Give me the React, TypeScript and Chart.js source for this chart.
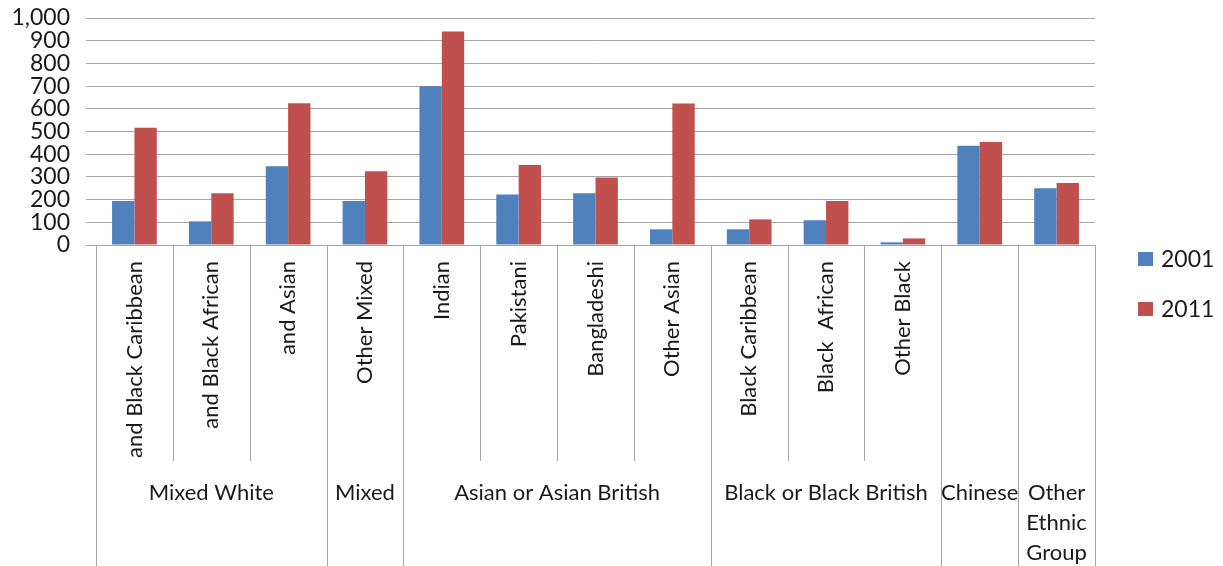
import React, { useEffect, useRef } from "react";
import { Chart, registerables } from "chart.js";

Chart.register(...registerables);

// Sub-category labels along the x axis (drawn rotated)
const categories: string[] = [
  "and Black Caribbean",
  "and Black African",
  "and Asian",
  "Other Mixed",
  "Indian",
  "Pakistani",
  "Bangladeshi",
  "Other Asian",
  "Black Caribbean",
  "Black  African",
  "Other Black",
  "",
  "",
];

// Top-level ethnic groups and how many sub-categories each covers
const groupLabels: string[][] = [
  ["Mixed White"],
  ["Mixed"],
  ["Asian or Asian British"],
  ["Black or Black British"],
  ["Chinese"],
  ["Other", "Ethnic", "Group"],
];
const groupSpans: number[] = [3, 1, 4, 3, 1, 1];

const seriesNames: string[] = ["2001", "2011"];
const values2001: number[] = [194, 104, 347, 194, 699, 222, 228, 69, 69, 109, 12, 437, 250];
const values2011: number[] = [517, 228, 624, 325, 940, 352, 297, 623, 113, 194, 29, 454, 273];

const yTicks = { min: 0, max: 1000, step: 100 };

const BLUE = "#4F81BD";
const RED = "#C0504D";
const GRID = "#a6a6a6";
const TEXT = "#1a1a1a";
const FONT = "Lato, 'Liberation Sans', sans-serif";

const W = 1223;
const H = 566;

const axisDecor = {
  id: "axisDecor",
  afterDraw(chart: any) {
    const { ctx, chartArea } = chart;
    const n = categories.length;
    const cw = (chartArea.right - chartArea.left) / n;
    const innerBottom = 461;

    // boundaries that close a top-level group
    const groupEdges = new Set<number>([0]);
    let acc = 0;
    groupSpans.forEach((s) => {
      acc += s;
      groupEdges.add(acc);
    });

    ctx.save();
    ctx.strokeStyle = GRID;
    ctx.lineWidth = 1;
    for (let i = 0; i <= n; i++) {
      const x = Math.round(chartArea.left + i * cw) + 0.5;
      const yEnd = groupEdges.has(i) ? H : innerBottom;
      ctx.beginPath();
      ctx.moveTo(x, chartArea.bottom);
      ctx.lineTo(x, yEnd);
      ctx.stroke();
    }

    // rotated sub-category labels
    ctx.fillStyle = TEXT;
    ctx.font = `22px ${FONT}`;
    for (let i = 0; i < n; i++) {
      if (!categories[i]) continue;
      const cx = chartArea.left + (i + 0.5) * cw;
      ctx.save();
      ctx.translate(cx, chartArea.bottom + 16);
      ctx.rotate(-Math.PI / 2);
      ctx.textAlign = "right";
      ctx.textBaseline = "middle";
      ctx.fillText(categories[i], 0, 0);
      ctx.restore();
    }

    // group labels
    ctx.textAlign = "center";
    ctx.textBaseline = "middle";
    let start = 0;
    groupSpans.forEach((s, g) => {
      const cx = chartArea.left + (start + s / 2) * cw;
      groupLabels[g].forEach((line, k) => {
        ctx.fillText(line, cx, 493 + k * 30);
      });
      start += s;
    });

    // legend
    const colors = [BLUE, RED];
    ctx.font = `23px ${FONT}`;
    seriesNames.forEach((name, k) => {
      const cy = 259 + k * 50;
      ctx.fillStyle = colors[k];
      ctx.fillRect(1138, cy - 7, 15, 14);
      ctx.fillStyle = TEXT;
      ctx.textAlign = "left";
      ctx.textBaseline = "middle";
      ctx.fillText(name, 1161, cy + 1);
    });
    ctx.restore();
  },
};

export default function App() {
  const canvasRef = useRef<HTMLCanvasElement | null>(null);

  useEffect(() => {
    if (!canvasRef.current) return;
    const chart = new Chart(canvasRef.current, {
      type: "bar",
      data: {
        labels: categories,
        datasets: [
          {
            label: seriesNames[0],
            data: values2001,
            backgroundColor: BLUE,
            categoryPercentage: 0.582,
            barPercentage: 1,
          },
          {
            label: seriesNames[1],
            data: values2011,
            backgroundColor: RED,
            categoryPercentage: 0.582,
            barPercentage: 1,
          },
        ],
      },
      options: {
        responsive: false,
        animation: false,
        layout: { padding: { top: 18, right: 128, left: 0, bottom: 0 } },
        plugins: {
          legend: { display: false },
          tooltip: { enabled: false },
        },
        scales: {
          x: {
            ticks: { display: false },
            grid: { display: false },
            border: { display: true, color: GRID, width: 1 },
            afterFit(scale: any) {
              scale.height = H - 245;
            },
          },
          y: {
            min: yTicks.min,
            max: yTicks.max,
            ticks: {
              stepSize: yTicks.step,
              autoSkip: false,
              color: TEXT,
              padding: 16,
              font: { family: FONT, size: 23 },
              callback: (v: any) => Number(v).toLocaleString("en-US"),
            },
            grid: { color: GRID, lineWidth: 1, drawTicks: true, tickLength: 10 },
            border: { display: false },
            afterFit(scale: any) {
              scale.width = 96;
              scale.paddingTop = 0;
              scale.paddingBottom = 0;
            },
          },
        },
      },
      plugins: [axisDecor],
    });
    return () => chart.destroy();
  }, []);

  return (
    <div style={{ position: "absolute", left: 0, top: 0, width: W, height: H, background: "#fff" }}>
      <canvas ref={canvasRef} width={W} height={H} style={{ display: "block" }} />
    </div>
  );
}
